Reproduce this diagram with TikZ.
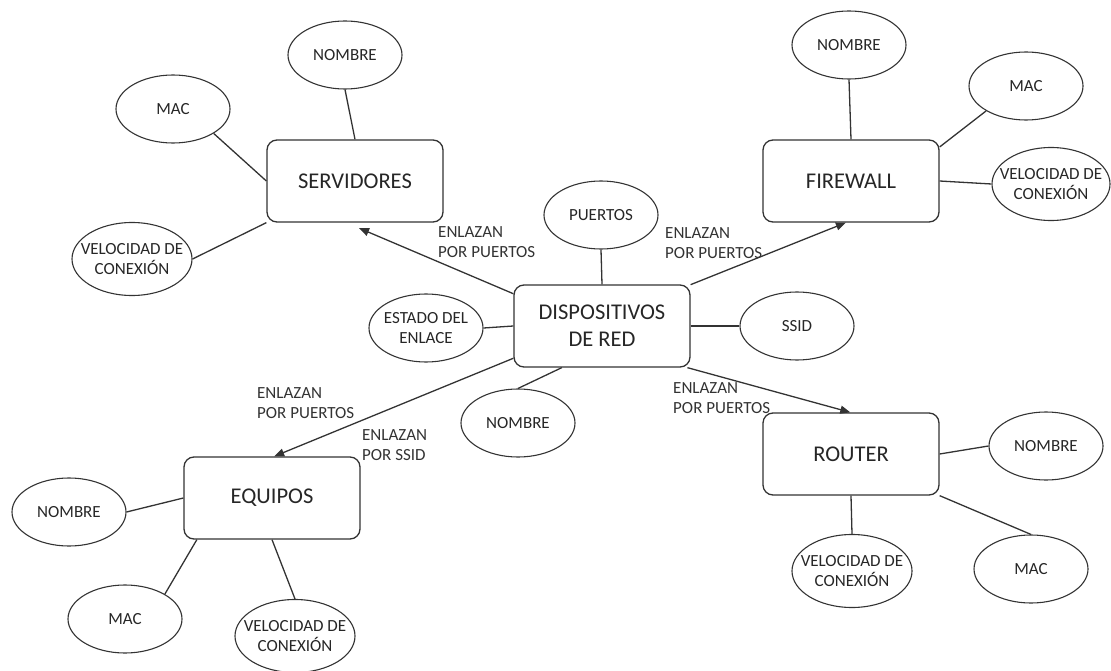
\documentclass[tikz,border=0pt]{standalone}
\usepackage{fontspec}
\setmainfont{Carlito}
\usetikzlibrary{shapes.geometric,arrows.meta}
% zero-width line so that an ellipse keeps its set size
\newcommand\tightline[1]{\makebox[0pt]{#1}}
\begin{document}
\begin{tikzpicture}[x=1pt,y=-1pt,
  line/.style={draw=black!80, line width=1.3pt},
  hub/.style={draw=black!80, line width=1.3pt, rounded corners=10pt,
    minimum width=176pt, minimum height=82pt, inner sep=0pt,
    font=\fontsize{22.5}{27}\selectfont, align=center, text=black!85},
  attr/.style={ellipse, draw=black!80, line width=1.1pt, minimum width=114pt,
    minimum height=68pt, inner sep=0pt, font=\fontsize{17}{20.5}\selectfont,
    align=center, text=black!85},
  vel/.style={attr, minimum width=120pt, minimum height=73pt},
  link/.style={line, -{Triangle[length=10pt,width=8pt]}},
  tag/.style={anchor=north west, inner sep=0pt,
    font=\fontsize{17}{20}\selectfont, align=left, text=black!80}]
\useasboundingbox (0,0) rectangle (1111,671);

% main boxes
\node[hub] (disp) at (602,326) {DISPOSITIVOS\\DE RED};
\node[hub] (serv) at (355,181) {SERVIDORES};
\node[hub] (fw)   at (851,181) {FIREWALL};
\node[hub] (eq)   at (272,498) {EQUIPOS};
\node[hub] (rt)   at (851,454) {ROUTER};

% attributes of the central node
\node[attr] (puer) at (601,215) {PUERTOS};
\node[attr] (est)  at (426,328) {\tightline{ESTADO DEL}\\\tightline{ENLACE}};
\node[attr] (ssid) at (797,326) {SSID};
\node[attr] (cNom) at (518,423) {NOMBRE};

% servers
\node[attr] (sNom) at (345,55)  {NOMBRE};
\node[attr] (sMac) at (173,109) {MAC};
\node[vel]  (sVel) at (132,259) {\tightline{VELOCIDAD DE}\\\tightline{CONEXIÓN}};

% firewall
\node[attr] (fNom) at (849,45)  {NOMBRE};
\node[attr] (fMac) at (1026,86) {MAC};
\node[vel, minimum width=118pt] (fVel) at (1051,184) {\tightline{VELOCIDAD DE}\\\tightline{CONEXIÓN}};

% computers
\node[attr] (eNom) at (69,512)  {NOMBRE};
\node[attr] (eMac) at (125,619) {MAC};
\node[vel]  (eVel) at (295,636) {\tightline{VELOCIDAD DE}\\\tightline{CONEXIÓN}};

% router
\node[attr] (rNom) at (1046,446) {NOMBRE};
\node[attr] (rMac) at (1031,569) {MAC};
\node[vel]  (rVel) at (852,571)  {\tightline{VELOCIDAD DE}\\\tightline{CONEXIÓN}};

% attribute links
\draw[line] (puer.south) -- (disp.north);
\draw[line] (est.east) -- (disp.west);
\draw[line] (disp.east) -- (ssid.west);
\draw[line] (disp.226) -- (cNom.north);

\draw[line] (sNom.south) -- (serv.north);
\draw[line] (sMac.-31) -- (serv.west);
\draw[line] (sVel.east) -- (serv.south west);

\draw[line] (fNom.south) -- (fw.north);
\draw[line] (fMac.212) -- (fw.21);
\draw[line] (fw.east) -- (fVel.west);

\draw[line] (eNom.east) -- (eq.west);
\draw[line] (eMac.32) -- (eq.209);
\draw[line] (eVel.north) -- (eq.south);

\draw[line] (rt.east) -- (rNom.west);
\draw[line] (rt.south east) -- (rMac.north);
\draw[line] (rt.south) -- (rVel.north);

% device links
\draw[link, shorten >=14pt] (disp.160) -- (serv.258);
\draw[link] (disp.25) -- (fw.263);
\draw[link] (disp.200) -- (eq.87);
\draw[link] (disp.-26) -- (rt.91);

% link labels
\node[tag] (t1) at (438,226)   {ENLAZAN\\POR PUERTOS};
\node[tag] (t2) at (665,227)   {ENLAZAN\\POR PUERTOS};
\node[tag] (t3) at (257,387.5) {ENLAZAN\\POR PUERTOS};
\node[tag] (t4) at (362,429.5) {ENLAZAN\\POR SSID};
\node[tag] (t5) at (673,382.5) {ENLAZAN\\POR PUERTOS};
\end{tikzpicture}
\end{document}
